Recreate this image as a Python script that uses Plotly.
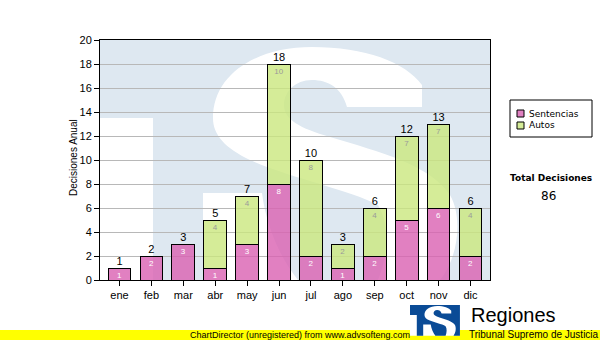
import plotly.graph_objects as go

# ---- data -------------------------------------------------------------
meses = ["ene", "feb", "mar", "abr", "may", "jun", "jul", "ago", "sep", "oct", "nov", "dic"]
sentencias = [1, 2, 3, 1, 3, 8, 2, 1, 2, 5, 6, 2]
autos = [0, 0, 0, 4, 4, 10, 8, 2, 4, 7, 7, 4]
totales = [s + a for s, a in zip(sentencias, autos)]
total_decisiones = sum(totales)

# ---- geometry (pixels) ------------------------------------------------
W, H = 600, 340
PL, PR, PT, PB = 100, 490, 40, 280          # plot area box

FONT = "Liberation Sans"
PINK = "rgba(218,96,178,0.8)"
GREEN = "rgba(203,231,126,0.8)"
PINK_KEY = "#e080c1"
GREEN_KEY = "#d5ec98"
LOGO_BLUE = "#0a4b96"


def paper(x, y):
    """pixel position -> paper coordinates"""
    return (x - PL) / (PR - PL), (PB - y) / (PB - PT)


def make_path(cmds, tf=lambda x, y: (x, y)):
    parts = []
    for op, pts in cmds:
        if op == "Z":
            parts.append("Z")
            continue
        coords = " ".join("%.4f,%.4f" % paper(*tf(x, y)) for x, y in pts)
        parts.append(op + coords)
    return " ".join(parts)


# "TS" emblem outline, drawn in plot-area pixel space
emblem_box = [
    ("M", [(100, 40)]), ("L", [(490, 40)]), ("L", [(490, 280)]),
    ("L", [(153, 280)]), ("L", [(153, 118)]), ("L", [(100, 118)]), ("Z", []),
]
emblem_s = [
    ("M", [(203, 280)]),
    ("L", [(203, 193)]),
    ("L", [(262, 193)]),
    ("C", [(266, 225), (280, 258), (298, 280)]),
    ("L", [(378, 280)]),
    ("C", [(388, 255), (390, 225), (378, 205)]),
    ("C", [(350, 190), (290, 178), (250, 160)]),
    ("C", [(225, 148), (213, 135), (213, 118)]),
    ("C", [(213, 75), (255, 47), (312, 47)]),
    ("C", [(365, 47), (405, 62), (422, 85)]),
    ("L", [(422, 107)]),
    ("L", [(347, 107)]),
    ("C", [(342, 88), (328, 80), (312, 80)]),
    ("C", [(295, 80), (284, 92), (284, 105)]),
    ("C", [(284, 120), (300, 128), (330, 137)]),
    ("C", [(380, 152), (430, 165), (450, 195)]),
    ("C", [(462, 215), (460, 255), (440, 280)]),
    ("Z", []),
]


def logo_tf(x, y):
    s = 0.128
    return 410 + (x - 100) * s, 305 + (y - 40) * s


shapes = []
# faint emblem across the plot area, under grid and bars
shapes.append(dict(
    type="path", xref="paper", yref="paper", layer="below",
    path=make_path(emblem_box) + " " + make_path(emblem_s),
    fillcolor="#dee8f1", fillrule="evenodd", line=dict(width=0),
))

# unregistered banner strip
x0, y0 = paper(0, 330)
x1, y1 = paper(600, 341)
shapes.append(dict(type="rect", xref="paper", yref="paper", x0=x0, y0=y0, x1=x1, y1=y1,
                   fillcolor="#ffff00", line=dict(width=0), layer="above"))

# small emblem next to "Regiones"
lx0, ly0 = paper(*logo_tf(100, 40))
lx1, ly1 = paper(*logo_tf(490, 280))
shapes.append(dict(type="rect", xref="paper", yref="paper", x0=lx0, y0=ly0, x1=lx1, y1=ly1,
                   fillcolor="white", line=dict(width=0), layer="above"))
shapes.append(dict(
    type="path", xref="paper", yref="paper", layer="above",
    path=make_path(emblem_box, logo_tf) + " " + make_path(emblem_s, logo_tf),
    fillcolor=LOGO_BLUE, fillrule="evenodd", line=dict(width=0),
))

# legend box and swatches
bx0, by0 = paper(510, 100)
bx1, by1 = paper(592, 137)
shapes.append(dict(type="rect", xref="paper", yref="paper", x0=bx0, y0=by0, x1=bx1, y1=by1,
                   fillcolor="white", line=dict(color="black", width=1)))
for col, top in ((PINK_KEY, 110), (GREEN_KEY, 122)):
    sx0, sy0 = paper(517, top)
    sx1, sy1 = paper(524, top + 7)
    shapes.append(dict(type="rect", xref="paper", yref="paper", x0=sx0, y0=sy0, x1=sx1, y1=sy1,
                       fillcolor=col, line=dict(color="black", width=1)))

annotations = []


def note(text, x, y, size, family=FONT, xanchor="center", yanchor="middle", color="black", angle=0):
    ax, ay = paper(x, y)
    annotations.append(dict(text=text, x=ax, y=ay, xref="paper", yref="paper", showarrow=False,
                            xanchor=xanchor, yanchor=yanchor, textangle=angle,
                            font=dict(family=family, size=size, color=color)))


note("Decisiones Anual", 73, 158, 10, angle=-90)
note("Sentencias", 527, 113.5, 9, family="DejaVu Sans", xanchor="left")
note("Autos", 527, 125.5, 9, family="DejaVu Sans", xanchor="left")
note("<b>Total Decisiones</b>", 551, 178, 9, family="DejaVu Sans")
note(str(total_decisiones), 548, 196, 12, family="DejaVu Sans")
note("Regiones", 469, 315, 20, xanchor="left")
note("Tribunal Supremo de Justicia", 467, 334, 10, xanchor="left")
note("ChartDirector (unregistered) from www.advsofteng.com", 300, 335, 9)

fig = go.Figure()
fig.add_trace(go.Bar(
    x=meses, y=sentencias, name="Sentencias",
    marker=dict(color=PINK, line=dict(color="black", width=1)),
    text=[str(v) for v in sentencias], textposition="inside", insidetextanchor="end",
    constraintext="none", textangle=0,
    textfont=dict(family=FONT, size=8, color="white"),
))
fig.add_trace(go.Bar(
    x=meses, y=[v if v else None for v in autos], name="Autos",
    marker=dict(color=GREEN, line=dict(color="black", width=1)),
    text=[str(v) if v else "" for v in autos], textposition="inside", insidetextanchor="end",
    constraintext="none", textangle=0,
    textfont=dict(family=FONT, size=8, color="#9a9a9a"),
))
fig.add_trace(go.Scatter(
    x=meses, y=totales, mode="text", text=[str(v) for v in totales],
    textposition="top center", textfont=dict(family=FONT, size=11, color="black"),
    hoverinfo="skip",
))

fig.update_layout(
    width=W, height=H,
    margin=dict(l=PL, r=W - PR, t=PT, b=H - PB),
    paper_bgcolor="white", plot_bgcolor="white",
    barmode="stack", bargap=0.29, showlegend=False,
    shapes=shapes, annotations=annotations,
    font=dict(family=FONT, size=11, color="black"),
)
fig.update_xaxes(
    type="category", showline=True, linecolor="black", linewidth=1, mirror=True,
    ticks="outside", ticklen=5, tickcolor="black", showgrid=False,
    tickfont=dict(family=FONT, size=11, color="black"),
)
fig.update_yaxes(
    range=[0, 20], dtick=2, showgrid=True, gridcolor="#b8b8b8", gridwidth=1,
    zeroline=False, showline=True, linecolor="black", linewidth=1, mirror=True,
    ticks="outside", ticklen=5, tickcolor="black",
    tickfont=dict(family=FONT, size=11, color="black"),
)

fig.write_html("out.html")
